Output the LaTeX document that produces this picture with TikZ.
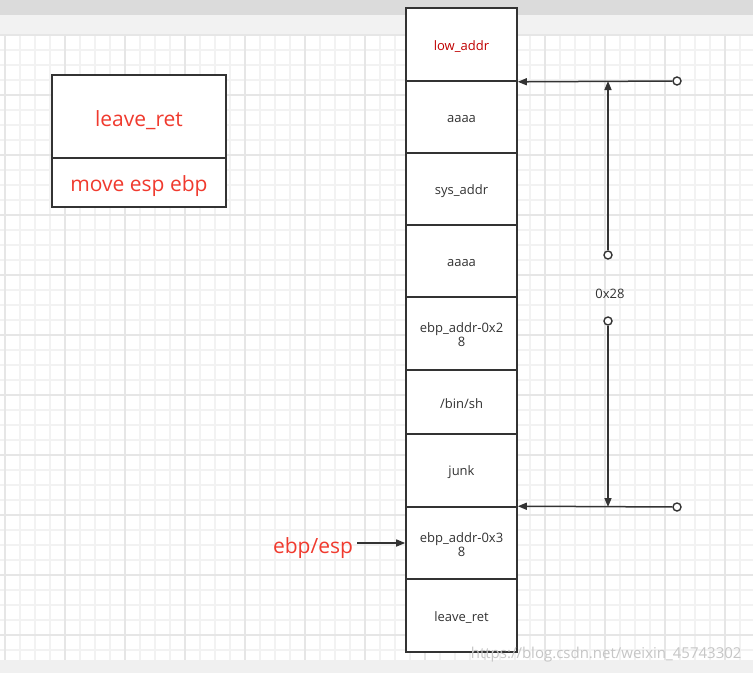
\documentclass[tikz,border=0pt]{standalone}
\usepackage{fontspec}
\setmainfont{Open Sans}
\usetikzlibrary{arrows.meta}
\definecolor{grid}{HTML}{F2F2F2}
\definecolor{gridmaj}{HTML}{E6E6E6}
\definecolor{edge}{HTML}{333333}
\definecolor{redtxt}{HTML}{F03A2E}
\definecolor{darkred}{HTML}{C00000}
\newcommand\dn[2]{\raisebox{-#1pt}[\height][\depth]{#2}}
\tikzset{
  cell/.style={draw=edge, line width=1.6pt, fill=white, minimum width=111pt, inner sep=0pt, font=\fontsize{13}{15}\selectfont, text=edge, align=center},
  conn/.style={draw=edge, line width=1.5pt},
  tip/.style={-{Triangle[length=9pt,width=7pt]}},
  dot/.style={circle, draw=edge, line width=1.4pt, fill=white, minimum size=8pt, inner sep=0pt},
  bigred/.style={text=redtxt, font=\fontsize{21}{25}\selectfont},
}
\begin{document}
\begin{tikzpicture}[x=1pt,y=-1pt]
\useasboundingbox (0,0) rectangle (753,673);
% background
\fill[white] (0,0) rectangle (753,673);
\fill[gray!28] (0,0) rectangle (753,15);
\fill[gray!10] (0,15) rectangle (753,35);
\foreach \i in {0,...,50} { \draw[grid, line width=1.2pt] (5+\i*15,35) -- (5+\i*15,660); }
\foreach \j in {0,...,41} { \draw[grid, line width=1.2pt] (0,35+\j*15) -- (753,35+\j*15); }
\foreach \i in {0,...,12} { \draw[gridmaj, line width=1.2pt] (5+\i*60,35) -- (5+\i*60,660); }
\foreach \j in {0,...,10} { \draw[gridmaj, line width=1.2pt] (0,35+\j*60) -- (753,35+\j*60); }
\fill[gray!12] (0,660) rectangle (753,673);

% left box
\node[draw=edge, line width=1.6pt, fill=white, minimum width=174pt, minimum height=83pt, inner sep=0pt, bigred] (lr) at (139,116.5) {\dn{4}{leave\_ret}};
\node[draw=edge, line width=1.6pt, fill=white, minimum width=174pt, minimum height=49pt, inner sep=0pt, bigred] (mv) at (139,182.5) {\dn{4}{move esp ebp}};

% stack
\node[cell, minimum height=73pt, text=darkred] (c0) at (461.5,44.5) {\dn{2}{low\_addr}};
\node[cell, minimum height=72pt] (c1) at (461.5,117) {\dn{2}{aaaa}};
\node[cell, minimum height=72pt] (c2) at (461.5,189) {\dn{2}{sys\_addr}};
\node[cell, minimum height=72pt] (c3) at (461.5,261) {\dn{2}{aaaa}};
\node[cell, minimum height=73pt] (c4) at (461.5,333.5) {\dn{3}{\begin{tabular}{@{}c@{}}ebp\_addr-0x2\\[-1pt]8\end{tabular}}};
\node[cell, minimum height=64pt] (c5) at (461.5,402) {\dn{2}{/bin/sh}};
\node[cell, minimum height=73pt] (c6) at (461.5,470.5) {\dn{2}{junk}};
\node[cell, minimum height=72pt] (c7) at (461.5,543) {\dn{3}{\begin{tabular}{@{}c@{}}ebp\_addr-0x3\\[-1pt]8\end{tabular}}};
\node[cell, minimum height=73pt] (c8) at (461.5,615.5) {\dn{2}{leave\_ret}};

% markers
\node[dot] (d1) at (677,81) {};
\node[dot] (d2) at (677,507) {};
\node[dot] (d3) at (608,255) {};
\node[dot] (d4) at (608,321) {};
\coordinate (t1) at (608,81);
\coordinate (t2) at (608,507);
\node[font=\fontsize{13}{15}\selectfont, text=edge] (lbl) at (610,294) {0x28};

\draw[conn, tip] (d1) -- (c0.south east);
\draw[conn, tip] (d2) -- (c7.north east);
\draw[conn, tip] (d3) -- (t1);
\draw[conn, tip] (d4) -- (t2);

% ebp/esp
\node[bigred, inner sep=1pt] (ebp) at (313,545) {\dn{3}{ebp/esp}};
\coordinate (ea) at (357,543);
\draw[conn, tip] (ea) -- (c7.west |- ea);

% watermark
\node[text=gray!45, font=\fontsize{15}{18}\selectfont, anchor=east] (wm) at (745,655) {https://blog.csdn.net/weixin\_45743302};
\end{tikzpicture}
\end{document}
